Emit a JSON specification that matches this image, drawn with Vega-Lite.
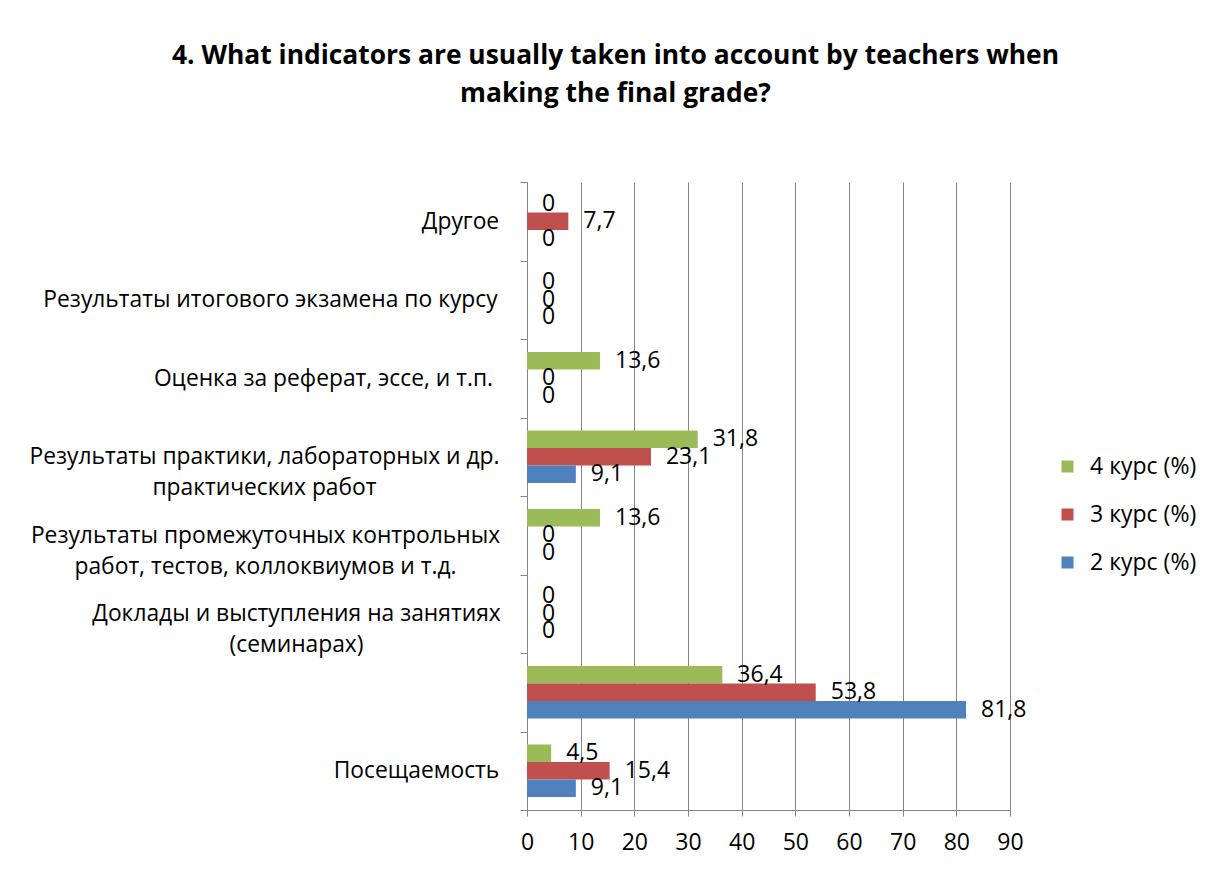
{
  "$schema": "https://vega.github.io/schema/vega-lite/v6.json",
  "width": 483,
  "height": 628,
  "autosize": "none",
  "padding": {"left": 527, "top": 182, "right": 201, "bottom": 59},
  "background": "white",
  "title": {
    "text": ["4. What indicators are usually taken into account by teachers when", "making the final grade?"],
    "font": "Open Sans",
    "fontSize": 26.4,
    "fontWeight": "bold",
    "color": "black",
    "anchor": "middle",
    "frame": "group",
    "dx": -153,
    "offset": 64,
    "lineHeight": 38
  },
  "data": {
    "values": [
      {"cat": "Другое", "course": "4 курс (%)", "v": 0},
      {"cat": "Другое", "course": "3 курс (%)", "v": 7.7},
      {"cat": "Другое", "course": "2 курс (%)", "v": 0},
      {"cat": "Результаты итогового экзамена по курсу", "course": "4 курс (%)", "v": 0},
      {"cat": "Результаты итогового экзамена по курсу", "course": "3 курс (%)", "v": 0},
      {"cat": "Результаты итогового экзамена по курсу", "course": "2 курс (%)", "v": 0},
      {"cat": "Оценка за реферат, эссе, и т.п.", "course": "4 курс (%)", "v": 13.6},
      {"cat": "Оценка за реферат, эссе, и т.п.", "course": "3 курс (%)", "v": 0},
      {"cat": "Оценка за реферат, эссе, и т.п.", "course": "2 курс (%)", "v": 0},
      {"cat": "Результаты практики, лабораторных и др.|практических работ", "course": "4 курс (%)", "v": 31.8},
      {"cat": "Результаты практики, лабораторных и др.|практических работ", "course": "3 курс (%)", "v": 23.1},
      {"cat": "Результаты практики, лабораторных и др.|практических работ", "course": "2 курс (%)", "v": 9.1},
      {"cat": "Результаты промежуточных контрольных|работ, тестов, коллоквиумов и т.д.", "course": "4 курс (%)", "v": 13.6},
      {"cat": "Результаты промежуточных контрольных|работ, тестов, коллоквиумов и т.д.", "course": "3 курс (%)", "v": 0},
      {"cat": "Результаты промежуточных контрольных|работ, тестов, коллоквиумов и т.д.", "course": "2 курс (%)", "v": 0},
      {"cat": "Доклады и выступления на занятиях|(семинарах)", "course": "4 курс (%)", "v": 0},
      {"cat": "Доклады и выступления на занятиях|(семинарах)", "course": "3 курс (%)", "v": 0},
      {"cat": "Доклады и выступления на занятиях|(семинарах)", "course": "2 курс (%)", "v": 0},
      {"cat": " ", "course": "4 курс (%)", "v": 36.4},
      {"cat": " ", "course": "3 курс (%)", "v": 53.8},
      {"cat": " ", "course": "2 курс (%)", "v": 81.8},
      {"cat": "Посещаемость", "course": "4 курс (%)", "v": 4.5},
      {"cat": "Посещаемость", "course": "3 курс (%)", "v": 15.4},
      {"cat": "Посещаемость", "course": "2 курс (%)", "v": 9.1}
    ]
  },
  "encoding": {
    "y": {
      "field": "cat",
      "type": "nominal",
      "sort": ["Другое", "Результаты итогового экзамена по курсу", "Оценка за реферат, эссе, и т.п.", "Результаты практики, лабораторных и др.|практических работ", "Результаты промежуточных контрольных|работ, тестов, коллоквиумов и т.д.", "Доклады и выступления на занятиях|(семинарах)", " ", "Посещаемость"],
      "scale": {"paddingInner": 0, "paddingOuter": 0},
      "axis": {
        "title": null,
        "tickBand": "extent",
        "tickSize": 7,
        "tickColor": "#868686",
        "domainColor": "#868686",
        "labelFont": "Open Sans",
        "labelFontSize": 22.8,
        "labelColor": "black",
        "labelLimit": 0,
        "labelLineHeight": 31,
        "labelAlign": "center",
        "labelExpr": "split(datum.label, '|')",
        "labelPadding": {
          "condition": [
            {"test": "datum.value === 'Другое'", "value": 60},
            {"test": "datum.value === 'Результаты итогового экзамена по курсу'", "value": 250},
            {"test": "datum.value === 'Оценка за реферат, эссе, и т.п.'", "value": 197},
            {"test": "datum.value === 'Результаты практики, лабораторных и др.|практических работ'", "value": 256},
            {"test": "datum.value === 'Результаты промежуточных контрольных|работ, тестов, коллоквиумов и т.д.'", "value": 255},
            {"test": "datum.value === 'Доклады и выступления на занятиях|(семинарах)'", "value": 224}
          ],
          "value": 104
        }
      }
    },
    "yOffset": {
      "field": "course",
      "type": "nominal",
      "sort": ["4 курс (%)", "3 курс (%)", "2 курс (%)"],
      "scale": {"paddingInner": 0, "paddingOuter": 0.74}
    },
    "x": {
      "field": "v",
      "type": "quantitative",
      "scale": {"domain": [0, 90], "nice": false},
      "axis": {
        "title": null,
        "values": [0, 10, 20, 30, 40, 50, 60, 70, 80, 90],
        "grid": true,
        "gridColor": "#868686",
        "gridWidth": 1,
        "gridOpacity": 1,
        "tickSize": 6,
        "tickColor": "#868686",
        "domainColor": "#868686",
        "labelFont": "Open Sans",
        "labelFontSize": 23,
        "labelColor": "black",
        "labelPadding": 15,
        "labelFlush": false
      }
    }
  },
  "layer": [
    {
      "mark": {"type": "bar"},
      "encoding": {
        "color": {
          "field": "course",
          "type": "nominal",
          "scale": {"domain": ["4 курс (%)", "3 курс (%)", "2 курс (%)"], "range": ["#9BBB59", "#C0504D", "#4F81BD"]},
          "legend": {
            "title": null,
            "orient": "none",
            "legendX": 529,
            "legendY": 273,
            "padding": 0,
            "symbolType": "square",
            "symbolSize": 144,
            "symbolStrokeWidth": 0,
            "labelFont": "Open Sans",
            "labelFontSize": 23,
            "labelColor": "black",
            "labelOffset": 11,
            "rowPadding": 24
          }
        }
      }
    },
    {
      "mark": {"type": "text", "align": "left", "baseline": "middle", "dx": 15, "font": "Open Sans", "fontSize": 23, "color": "black"},
      "encoding": {
        "text": {"field": "v", "type": "quantitative", "format": "~r"}
      }
    }
  ],
  "config": {
    "view": {"stroke": null},
    "locale": {"number": {"decimal": ",", "thousands": " ", "grouping": [3], "currency": ["", ""]}}
  }
}
